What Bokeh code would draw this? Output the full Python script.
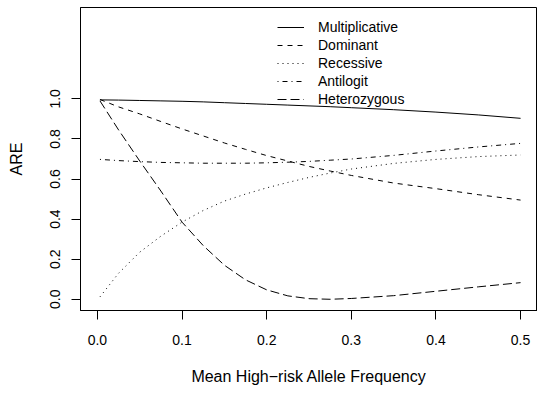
from bokeh.plotting import figure
from bokeh.models import Range1d, FixedTicker, NumeralTickFormatter, Legend, LegendItem
from bokeh.embed import file_html
from bokeh.resources import INLINE

freq = [0.003, 0.025, 0.05, 0.075, 0.1, 0.125, 0.15, 0.175, 0.2, 0.225, 0.25, 0.275, 0.3, 0.35, 0.4, 0.45, 0.5]
multiplicative = [0.995, 0.994, 0.992, 0.990, 0.988, 0.985, 0.981, 0.977, 0.973, 0.969, 0.965, 0.961, 0.956, 0.946, 0.934, 0.920, 0.903]
dominant = [0.997, 0.96, 0.925, 0.887, 0.85, 0.815, 0.78, 0.748, 0.717, 0.69, 0.663, 0.64, 0.618, 0.58, 0.552, 0.522, 0.495]
recessive = [0.012, 0.13, 0.235, 0.315, 0.385, 0.443, 0.49, 0.525, 0.556, 0.583, 0.608, 0.63, 0.65, 0.678, 0.698, 0.712, 0.72]
antilogit = [0.698, 0.692, 0.687, 0.683, 0.681, 0.679, 0.679, 0.679, 0.681, 0.684, 0.688, 0.694, 0.70, 0.718, 0.740, 0.760, 0.778]
heterozygous = [0.99, 0.845, 0.69, 0.54, 0.385, 0.268, 0.17, 0.097, 0.047, 0.017, 0.003, 0.0, 0.004, 0.018, 0.04, 0.062, 0.083]

series_names = ["Multiplicative", "Dominant", "Recessive", "Antilogit", "Heterozygous"]
series_values = [multiplicative, dominant, recessive, antilogit, heterozygous]
dashes = ["solid", "5 5", "1 4", "1 4 5 4", "9 4"]

x_ticks = [0.0, 0.1, 0.2, 0.3, 0.4, 0.5]
y_ticks = [0.0, 0.2, 0.4, 0.6, 0.8, 1.0]

FONT = "Liberation Sans"

p = figure(width=537, height=393, output_backend="svg", toolbar_location=None,
           x_range=Range1d(-0.02, 0.52), y_range=Range1d(-0.056, 1.456),
           min_border_left=80, min_border_right=0, min_border_top=7, min_border_bottom=83)
p.background_fill_color = "white"
p.border_fill_color = "white"
p.outline_line_color = "black"
p.outline_line_width = 1
p.xgrid.visible = False
p.ygrid.visible = False

items = []
for name, vals, dash in zip(series_names, series_values, dashes):
    r = p.line(freq, vals, line_color="black", line_width=1, line_dash=dash)
    items.append(LegendItem(label=name, renderers=[r]))

for ax, ticks in ((p.xaxis[0], x_ticks), (p.yaxis[0], y_ticks)):
    ax.ticker = FixedTicker(ticks=ticks)
    ax.formatter = NumeralTickFormatter(format="0.0")
    ax.axis_line_color = "black"
    ax.major_tick_line_color = "black"
    ax.major_tick_out = 9
    ax.major_tick_in = 0
    ax.minor_tick_out = 0
    ax.minor_tick_in = 0
    ax.major_label_text_font = FONT
    ax.major_label_text_font_size = "14px"
    ax.major_label_text_color = "black"
    ax.axis_label_text_font = FONT
    ax.axis_label_text_font_size = "16px"
    ax.axis_label_text_font_style = "normal"
    ax.axis_label_text_color = "black"

p.xaxis.axis_label = "Mean High\u2212risk Allele Frequency"
p.yaxis.axis_label = "ARE"
p.yaxis.major_label_orientation = "vertical"
p.xaxis.major_label_standoff = 15
p.yaxis.major_label_standoff = 11
p.xaxis.axis_label_standoff = 20
p.yaxis.axis_label_standoff = 23

legend = Legend(items=items, location=(197, 202), glyph_width=27, glyph_height=18,
                label_height=18, spacing=0, label_standoff=14, padding=0, margin=0,
                border_line_color=None, background_fill_alpha=0,
                label_text_font=FONT, label_text_font_size="14px", label_text_color="black")
p.add_layout(legend, "center")

open("out.html", "w").write(file_html(p, INLINE))
